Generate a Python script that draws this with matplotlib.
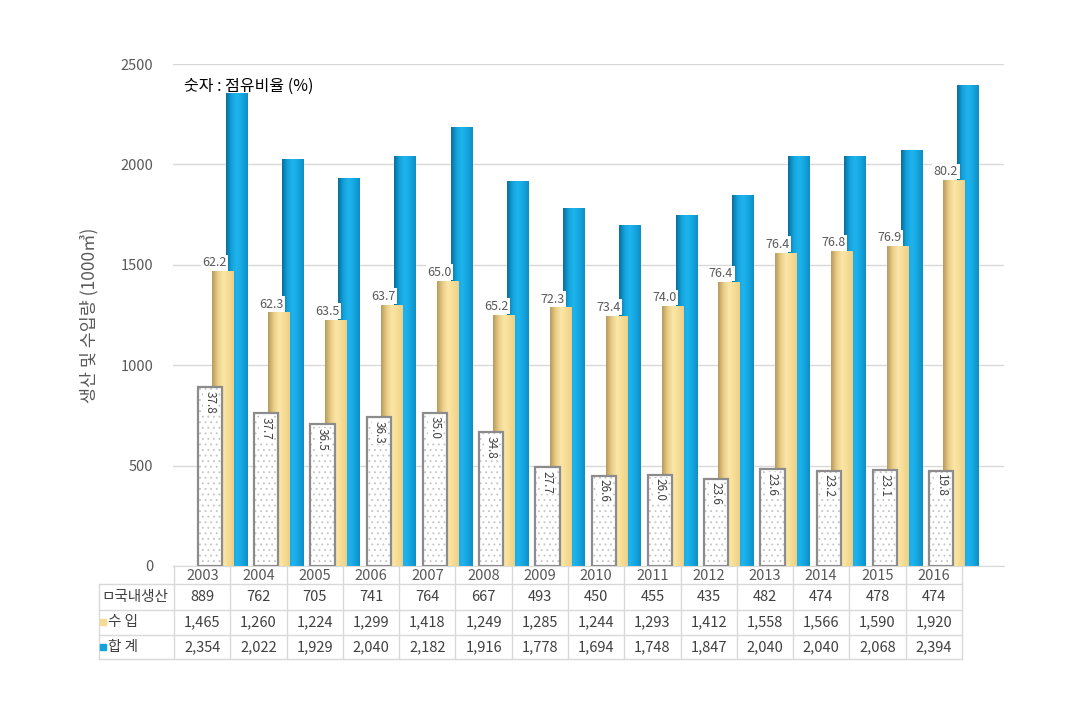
import matplotlib.pyplot as plt
import numpy as np
from matplotlib.colors import LinearSegmentedColormap

plt.rcParams['font.family'] = ['Noto Sans CJK KR', 'DejaVu Sans']
plt.rcParams['hatch.linewidth'] = 0.6

# 데이터
years = ['2003', '2004', '2005', '2006', '2007', '2008', '2009',
         '2010', '2011', '2012', '2013', '2014', '2015', '2016']
domestic = [889, 762, 705, 741, 764, 667, 493, 450, 455, 435, 482, 474, 478, 474]
imports = [1465, 1260, 1224, 1299, 1418, 1249, 1285, 1244, 1293, 1412, 1558, 1566, 1590, 1920]
total = [2354, 2022, 1929, 2040, 2182, 1916, 1778, 1694, 1748, 1847, 2040, 2040, 2068, 2394]
dom_share = ['37.8', '37.7', '36.5', '36.3', '35.0', '34.8', '27.7',
             '26.6', '26.0', '23.6', '23.6', '23.2', '23.1', '19.8']
imp_share = ['62.2', '62.3', '63.5', '63.7', '65.0', '65.2', '72.3',
             '73.4', '74.0', '76.4', '76.4', '76.8', '76.9', '80.2']
row_names = ['ㅁ국내생산', '수 입', '합 계']

blue = '#12a3dc'
yellow = '#f6dc92'
gray_txt = '#595959'

# 원통 느낌의 그라데이션
blue_cm = LinearSegmentedColormap.from_list('b', ['#0a6e9c', '#12a3dc', '#20b4ee', '#14a6e0', '#0e8fc4'])
yellow_cm = LinearSegmentedColormap.from_list('y', ['#b89a5c', '#e8cc85', '#fbe6a8', '#f7dc93', '#ecd089'])

fig = plt.figure(figsize=(10.85, 7.01), dpi=100)
ax = fig.add_axes([0.1594, 0.1926, 0.7659, 0.7161])

x = np.arange(len(years))
grad = np.linspace(0, 1, 64).reshape(1, -1)


def shade(bars, cmap, z):
    for b in bars:
        x0, y0 = b.get_x(), b.get_y()
        ax.imshow(grad, cmap=cmap, extent=[x0, x0 + b.get_width(), y0, y0 + b.get_height()],
                  aspect='auto', zorder=z, clip_path=b, clip_on=True, interpolation='bilinear')


# 막대 (뒤에서 앞으로)
b_tot = ax.bar(x + 0.61, total, width=0.39, color=blue, zorder=2)
shade(b_tot, blue_cm, 2.1)
b_imp = ax.bar(x + 0.37, imports, width=0.39, color=yellow, zorder=3)
shade(b_imp, yellow_cm, 3.1)
ax.bar(x + 0.135, domestic, width=0.43, color='white', edgecolor='#c4c4c4',
       hatch='...', linewidth=0, zorder=4)
ax.bar(x + 0.135, domestic, width=0.43, fill=False, edgecolor='#8c8c8c',
       linewidth=1.6, zorder=5)

# 점유비율 라벨
for i in range(len(years)):
    ax.text(x[i] + 0.22, imports[i] + 12, imp_share[i], ha='center', va='bottom',
            fontsize=9, color=gray_txt, zorder=6,
            bbox=dict(facecolor='white', edgecolor='none', pad=1.0))
    ax.text(x[i] + 0.135, domestic[i] - 18, dom_share[i], ha='center', va='top',
            rotation=270, fontsize=8.5, color='#404040', zorder=6,
            bbox=dict(facecolor='white', edgecolor='none', pad=0.3))

ax.set_ylim(0, 2500)
ax.set_yticks([0, 500, 1000, 1500, 2000, 2500])
ax.tick_params(axis='y', length=0, pad=14, labelsize=10.5, labelcolor=gray_txt)
ax.set_xticks([])
ax.grid(axis='y', color='#d9d9d9', linewidth=1, zorder=0)
ax.set_axisbelow(True)
for s in ['top', 'right', 'left']:
    ax.spines[s].set_visible(False)
ax.spines['bottom'].set_color('#d9d9d9')

ax.set_ylabel('생산 및 수입량 (1000㎥)', fontsize=12.5, color=gray_txt, labelpad=16)
ax.text(0.013, 0.972, '숫자 : 점유비율 (%)', transform=ax.transAxes, fontsize=11.5,
        va='top', ha='left', color='black')

# 데이터 표
tr = ax.get_xaxis_transform()
line_kw = dict(color='#d9d9d9', linewidth=1, transform=tr, clip_on=False)
left_edge = -1.839
h_lines = [-0.0359, -0.0876, -0.1375, -0.1853]
for yy in h_lines:
    ax.plot([left_edge, 13.5], [yy, yy], **line_kw)
for k in range(len(years) + 1):
    ax.plot([k - 0.5, k - 0.5], [0, h_lines[-1]], **line_kw)
ax.plot([left_edge, left_edge], [h_lines[0], h_lines[-1]], **line_kw)

row_y = [-0.0618, -0.1125, -0.161]
for i in range(len(years)):
    ax.text(x[i], -0.019, years[i], transform=tr, ha='center', va='center',
            fontsize=10.5, color=gray_txt)
    for r, vals in enumerate([domestic, imports, total]):
        ax.text(x[i], row_y[r], f'{vals[i]:,}', transform=tr, ha='center',
                va='center', fontsize=10.5, color='#404040')

ax.text(-1.80, row_y[0], row_names[0], transform=tr, ha='left', va='center',
        fontsize=10.5, color='#404040')
for r, c in [(1, yellow), (2, blue)]:
    ax.plot([-1.77], [row_y[r]], marker='s', markersize=5, color=c,
            transform=tr, clip_on=False)
    ax.text(-1.68, row_y[r], row_names[r], transform=tr, ha='left', va='center',
            fontsize=10.5, color='#404040')

ax.set_xlim(-0.523, 14.25)
ax.set_ylim(0, 2500)
fig.savefig('out.png', dpi=100)
